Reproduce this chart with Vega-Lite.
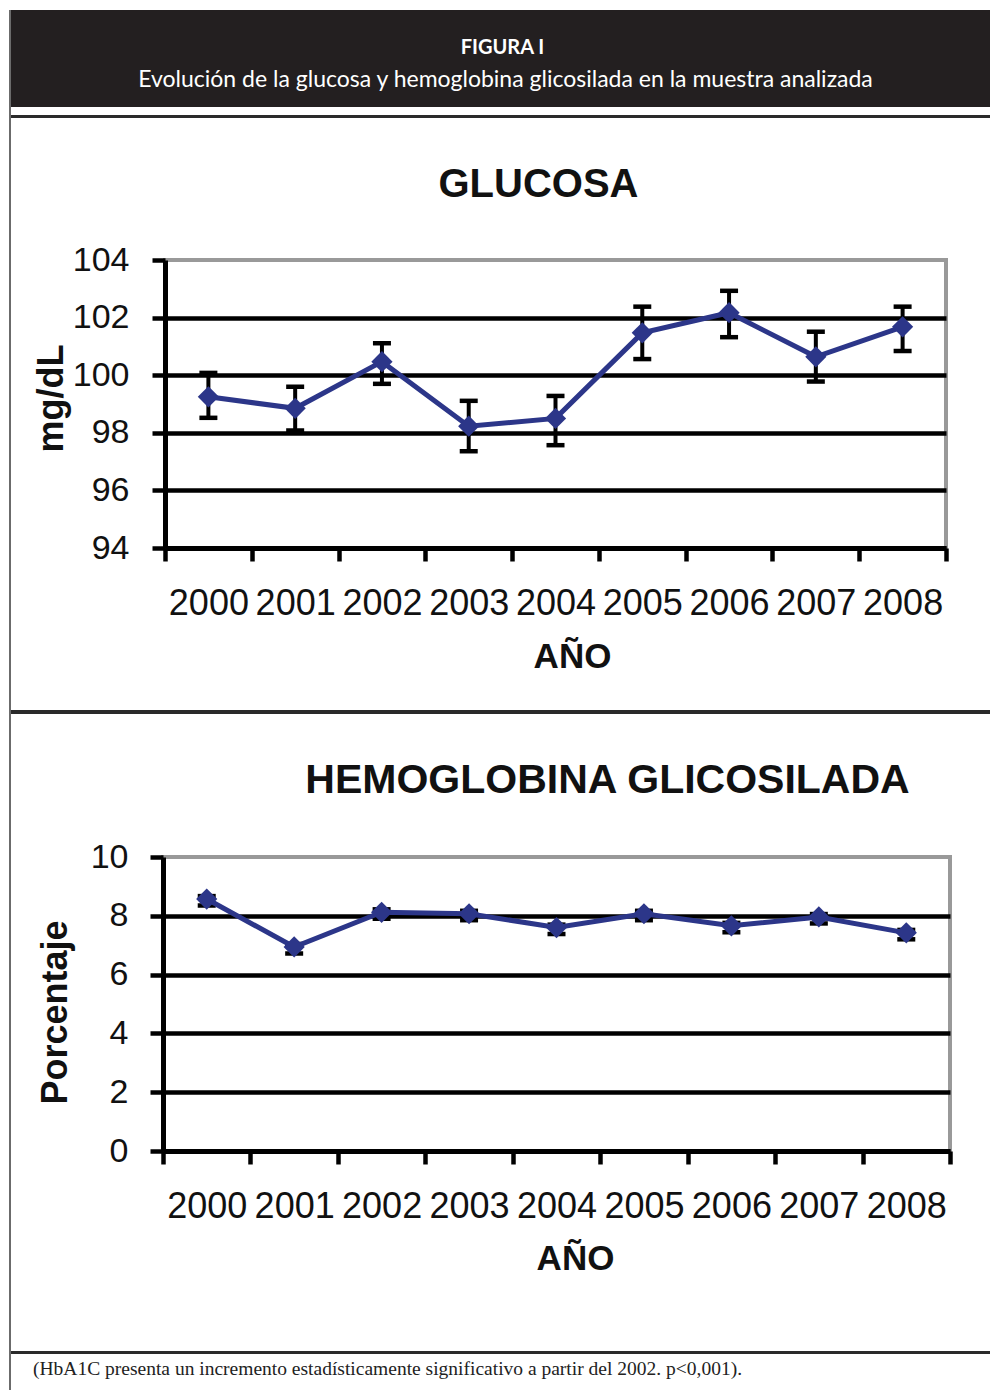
{
  "$schema": "https://vega.github.io/schema/vega-lite/v6.json",
  "padding": {"left": 9, "top": 10, "right": 0, "bottom": 0},
  "background": "white",
  "spacing": 0,
  "config": {
    "font": "Liberation Sans",
    "view": {"stroke": null},
    "axis": {"labelFont": "Liberation Sans", "titleFont": "Liberation Sans"},
    "title": {"font": "Liberation Sans"}
  },
  "hconcat": [
    {
      "width": 2, "height": 1380,
      "view": {"fill": "#6b6b6b", "stroke": null},
      "data": {"values": []},
      "mark": "rect",
      "encoding": {}
    },
    {
      "columns": 1,
      "align": "none",
      "spacing": 0,
      "concat": [
        {
          "width": 979, "height": 97,
          "view": {"fill": "#231f20", "stroke": null},
          "layer": [
            {
              "data": {"values": [{"t": "FIGURA I"}]},
              "mark": {"type": "text", "color": "white", "font": "Lato", "fontSize": 20, "fontWeight": "bold", "baseline": "middle", "dx": 2},
              "encoding": {
                "y": {"field": "t", "type": "nominal", "axis": null,
                  "scale": {"type": "point", "domain": ["FIGURA I", "Evolución de la glucosa y hemoglobina glicosilada en la muestra analizada"], "padding": 1.81, "align": 0.58}},
                "text": {"field": "t"}
              }
            },
            {
              "data": {"values": [{"t": "Evolución de la glucosa y hemoglobina glicosilada en la muestra analizada"}]},
              "mark": {"type": "text", "color": "white", "font": "Lato", "fontSize": 23, "baseline": "middle", "dx": 5},
              "encoding": {
                "y": {"field": "t", "type": "nominal", "axis": null},
                "text": {"field": "t"}
              }
            }
          ]
        },
        {"width": 979, "height": 8, "data": {"values": []}, "mark": "rect", "encoding": {}},
        {"width": 979, "height": 3, "view": {"fill": "#2a2a2a", "stroke": null}, "data": {"values": []}, "mark": "rect", "encoding": {}},
        {"width": 979, "height": 45, "data": {"values": []}, "mark": "rect", "encoding": {}},
        {
          "spacing": 0,
          "hconcat": [
            {"width": 20, "height": 1, "data": {"values": []}, "mark": "rect", "encoding": {}},
            {
              "width": 781, "height": 288,
              "view": {"stroke": "#999999", "strokeWidth": 4},
              "title": {"text": "GLUCOSA", "fontSize": 40, "fontWeight": "bold", "color": "#111111", "anchor": "middle", "frame": "group", "dx": -17, "offset": 38},
              "data": {"values": [
                {"year": "2000", "mean": 99.25, "lo": 98.52, "hi": 100.08},
                {"year": "2001", "mean": 98.85, "lo": 98.08, "hi": 99.60},
                {"year": "2002", "mean": 100.47, "lo": 99.70, "hi": 101.11},
                {"year": "2003", "mean": 98.23, "lo": 97.36, "hi": 99.11},
                {"year": "2004", "mean": 98.50, "lo": 97.57, "hi": 99.28},
                {"year": "2005", "mean": 101.47, "lo": 100.56, "hi": 102.38},
                {"year": "2006", "mean": 102.17, "lo": 101.32, "hi": 102.93},
                {"year": "2007", "mean": 100.64, "lo": 99.78, "hi": 101.51},
                {"year": "2008", "mean": 101.68, "lo": 100.84, "hi": 102.38}
              ]},
              "encoding": {
                "x": {"field": "year", "type": "ordinal",
                  "scale": {"type": "band", "paddingInner": 0, "paddingOuter": 0},
                  "axis": {"title": "AÑO", "titleFontSize": 35, "titleFontWeight": "bold", "titleColor": "#111111", "titleX": 407, "titleY": 119, "titleBaseline": "alphabetic", "titleAlign": "center",
                    "labelAngle": 0, "labelFontSize": 36, "labelColor": "#111111", "labelPadding": 25, "labelOverlap": false, "labelFlush": false,
                    "tickBand": "extent", "tickSize": 13, "tickWidth": 4.5, "tickColor": "black", "domainColor": "black", "domainWidth": 5, "grid": false}}
              },
              "layer": [
                {
                  "mark": {"type": "rule", "color": "black", "strokeWidth": 4},
                  "encoding": {
                    "y": {"field": "lo", "type": "quantitative", "title": "mg/dL", "scale": {"domain": [94, 104], "nice": false, "zero": false},
                      "axis": {"title": "mg/dL", "titleFontSize": 36, "titleFontWeight": "bold", "titleColor": "#111111", "titleX": -103, "titleY": 138, "titleAngle": 270, "titleBaseline": "alphabetic", "titleAlign": "center",
                        "values": [94, 96, 98, 100, 102, 104], "labelFontSize": 34, "labelColor": "#111111", "labelPadding": 23,
                        "tickSize": 13, "tickWidth": 4.5, "tickColor": "black", "domainColor": "black", "domainWidth": 5,
                        "grid": true, "gridColor": "black", "gridWidth": 4.5,
                        "gridOpacity": {"condition": {"test": "datum.value == 104", "value": 0}, "value": 1}}},
                    "y2": {"field": "hi"}
                  }
                },
                {
                  "mark": {"type": "tick", "color": "black", "thickness": 4.5, "size": 18, "opacity": 1},
                  "encoding": {"y": {"field": "lo", "type": "quantitative", "title": "mg/dL"}}
                },
                {
                  "mark": {"type": "tick", "color": "black", "thickness": 4.5, "size": 18, "opacity": 1},
                  "encoding": {"y": {"field": "hi", "type": "quantitative", "title": "mg/dL"}}
                },
                {
                  "mark": {"type": "line", "color": "#2c3689", "strokeWidth": 5},
                  "encoding": {"y": {"field": "mean", "type": "quantitative", "title": "mg/dL"}}
                },
                {
                  "mark": {"type": "point", "shape": "diamond", "filled": true, "size": 450, "color": "#2c3689", "opacity": 1},
                  "encoding": {"y": {"field": "mean", "type": "quantitative", "title": "mg/dL"}}
                }
              ]
            }
          ]
        },
        {"width": 979, "height": 34, "data": {"values": []}, "mark": "rect", "encoding": {}},
        {"width": 979, "height": 4, "view": {"fill": "#2a2a2a", "stroke": null}, "data": {"values": []}, "mark": "rect", "encoding": {}},
        {"width": 979, "height": 44, "data": {"values": []}, "mark": "rect", "encoding": {}},
        {
          "spacing": 0,
          "hconcat": [
            {"width": 24, "height": 1, "data": {"values": []}, "mark": "rect", "encoding": {}},
            {
              "width": 787, "height": 294,
              "view": {"stroke": "#999999", "strokeWidth": 4},
              "title": {"text": "HEMOGLOBINA GLICOSILADA", "fontSize": 41, "fontWeight": "bold", "color": "#111111", "anchor": "middle", "frame": "group", "dx": 51, "offset": 38},
              "data": {"values": [
                {"year": "2000", "mean": 8.57, "lo": 8.35, "hi": 8.67},
                {"year": "2001", "mean": 6.94, "lo": 6.72, "hi": 7.04},
                {"year": "2002", "mean": 8.12, "lo": 7.90, "hi": 8.22},
                {"year": "2003", "mean": 8.07, "lo": 7.85, "hi": 8.17},
                {"year": "2004", "mean": 7.60, "lo": 7.38, "hi": 7.70},
                {"year": "2005", "mean": 8.07, "lo": 7.85, "hi": 8.17},
                {"year": "2006", "mean": 7.66, "lo": 7.44, "hi": 7.76},
                {"year": "2007", "mean": 7.96, "lo": 7.74, "hi": 8.06},
                {"year": "2008", "mean": 7.42, "lo": 7.20, "hi": 7.52}
              ]},
              "encoding": {
                "x": {"field": "year", "type": "ordinal",
                  "scale": {"type": "band", "paddingInner": 0, "paddingOuter": 0},
                  "axis": {"title": "AÑO", "titleFontSize": 35, "titleFontWeight": "bold", "titleColor": "#111111", "titleX": 412, "titleY": 118, "titleBaseline": "alphabetic", "titleAlign": "center",
                    "labelAngle": 0, "labelFontSize": 36, "labelColor": "#111111", "labelPadding": 25, "labelOverlap": false, "labelFlush": false,
                    "tickBand": "extent", "tickSize": 13, "tickWidth": 4.5, "tickColor": "black", "domainColor": "black", "domainWidth": 5, "grid": false}}
              },
              "layer": [
                {
                  "mark": {"type": "rule", "color": "black", "strokeWidth": 4},
                  "encoding": {
                    "y": {"field": "lo", "type": "quantitative", "title": "Porcentaje", "scale": {"domain": [0, 10], "nice": false, "zero": false},
                      "axis": {"title": "Porcentaje", "titleFontSize": 36, "titleFontWeight": "bold", "titleColor": "#111111", "titleX": -97, "titleY": 155, "titleAngle": 270, "titleBaseline": "alphabetic", "titleAlign": "center",
                        "values": [0, 2, 4, 6, 8, 10], "labelFontSize": 34, "labelColor": "#111111", "labelPadding": 22,
                        "tickSize": 13, "tickWidth": 4.5, "tickColor": "black", "domainColor": "black", "domainWidth": 5,
                        "grid": true, "gridColor": "black", "gridWidth": 4.5,
                        "gridOpacity": {"condition": {"test": "datum.value == 10", "value": 0}, "value": 1}}},
                    "y2": {"field": "hi"}
                  }
                },
                {
                  "mark": {"type": "tick", "color": "black", "thickness": 4.5, "size": 18, "opacity": 1},
                  "encoding": {"y": {"field": "lo", "type": "quantitative", "title": "Porcentaje"}}
                },
                {
                  "mark": {"type": "tick", "color": "black", "thickness": 4.5, "size": 18, "opacity": 1},
                  "encoding": {"y": {"field": "hi", "type": "quantitative", "title": "Porcentaje"}}
                },
                {
                  "mark": {"type": "line", "color": "#2c3689", "strokeWidth": 5},
                  "encoding": {"y": {"field": "mean", "type": "quantitative", "title": "Porcentaje"}}
                },
                {
                  "mark": {"type": "point", "shape": "diamond", "filled": true, "size": 450, "color": "#2c3689", "opacity": 1},
                  "encoding": {"y": {"field": "mean", "type": "quantitative", "title": "Porcentaje"}}
                }
              ]
            }
          ]
        },
        {"width": 979, "height": 73, "data": {"values": []}, "mark": "rect", "encoding": {}},
        {"width": 979, "height": 3, "view": {"fill": "#2a2a2a", "stroke": null}, "data": {"values": []}, "mark": "rect", "encoding": {}},
        {
          "width": 44, "height": 30,
          "data": {"values": [{"t": "(HbA1C presenta un incremento estadísticamente significativo  a partir del 2002. p<0,001)."}]},
          "mark": {"type": "text", "align": "left", "baseline": "middle", "font": "Liberation Serif", "fontSize": 19.5, "color": "#222222"},
          "encoding": {"text": {"field": "t"}}
        }
      ]
    }
  ]
}
